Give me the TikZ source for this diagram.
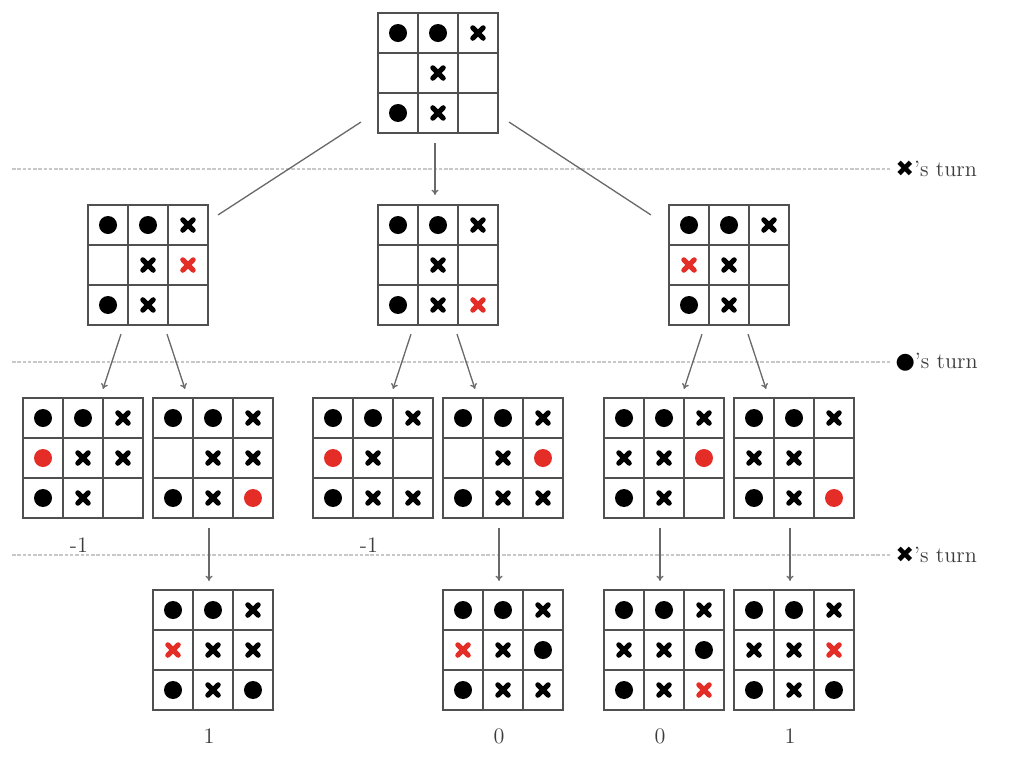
\documentclass[tikz,border=0pt]{standalone}
\usepackage{fontspec}
\newfontfamily\symfont{DejaVu Sans}
\usetikzlibrary{matrix,calc,arrows.meta}
\definecolor{mkred}{RGB}{228,45,38}
\definecolor{gridgray}{RGB}{80,80,80}
\definecolor{linkgray}{RGB}{105,105,105}
\definecolor{sepgray}{RGB}{200,200,200}
\definecolor{txtgray}{RGB}{60,60,60}
\begin{document}
\begin{tikzpicture}[x=0.02cm,y=-0.02cm,
  board/.style={matrix of nodes, nodes in empty cells, inner sep=0pt,
    column sep=-0.85pt, row sep=-0.85pt,
    nodes={draw=gridgray, line width=0.85pt, minimum size=0.8cm, inner sep=0pt, anchor=center}},
  o/.style={path picture={\fill[#1] (path picture bounding box.center) circle[radius=0.18cm];}},
  o/.default=black,
  x/.style={path picture={\draw[#1, line width=0.1cm, line cap=round, shift={(path picture bounding box.center)}]
      (-0.105cm,-0.105cm) -- (0.105cm,0.105cm) (-0.105cm,0.105cm) -- (0.105cm,-0.105cm);}},
  x/.default=black,
  link/.style={draw=linkgray, line width=0.75pt},
  arr/.style={link, -{To[length=3pt,width=4pt]}},
  sep/.style={draw=sepgray, line width=0.7pt, dash pattern=on 2pt off 1pt},
  turn/.style={anchor=west, inner sep=3pt, text=txtgray, font=\fontsize{12.6}{15}\selectfont},
  val/.style={text=txtgray, font=\fontsize{12.6}{15}\selectfont, inner sep=1pt}
]
\useasboundingbox (0,0) rectangle (1010,764);

% separators and turn labels
\coordinate (l1) at (12,169);
\coordinate (l2) at (12,362);
\coordinate (l3) at (12,555);
\node[turn] (t1) at (890,169) {{\color{black}\symfont ✖}'s turn};
\node[turn] (t2) at (890,362) {{\color{black}\symfont ●}'s turn};
\node[turn] (t3) at (890,555) {{\color{black}\symfont ✖}'s turn};
\draw[sep] (l1) -- (t1.west);
\draw[sep] (l2) -- (t2.west);
\draw[sep] (l3) -- (t3.west);

% level 0
\matrix (b0) [board] at (438,73) {
  |[o]| & |[o]| & |[x]| \\
        & |[x]| &       \\
  |[o]| & |[x]| &       \\
};

% level 1
\matrix (b1) [board] at (148,265) {
  |[o]| & |[o]| & |[x]| \\
        & |[x]| & |[x=mkred]| \\
  |[o]| & |[x]| &       \\
};
\matrix (b2) [board] at (438,265) {
  |[o]| & |[o]| & |[x]| \\
        & |[x]| &       \\
  |[o]| & |[x]| & |[x=mkred]| \\
};
\matrix (b3) [board] at (729,265) {
  |[o]| & |[o]| & |[x]| \\
  |[x=mkred]| & |[x]| & \\
  |[o]| & |[x]| &       \\
};

% level 2
\matrix (c1) [board] at (83,458) {
  |[o]| & |[o]| & |[x]| \\
  |[o=mkred]| & |[x]| & |[x]| \\
  |[o]| & |[x]| &       \\
};
\matrix (c2) [board] at (213,458) {
  |[o]| & |[o]| & |[x]| \\
        & |[x]| & |[x]| \\
  |[o]| & |[x]| & |[o=mkred]| \\
};
\matrix (c3) [board] at (373,458) {
  |[o]| & |[o]| & |[x]| \\
  |[o=mkred]| & |[x]| & \\
  |[o]| & |[x]| & |[x]| \\
};
\matrix (c4) [board] at (503,458) {
  |[o]| & |[o]| & |[x]| \\
        & |[x]| & |[o=mkred]| \\
  |[o]| & |[x]| & |[x]| \\
};
\matrix (c5) [board] at (664,458) {
  |[o]| & |[o]| & |[x]| \\
  |[x]| & |[x]| & |[o=mkred]| \\
  |[o]| & |[x]| &       \\
};
\matrix (c6) [board] at (794,458) {
  |[o]| & |[o]| & |[x]| \\
  |[x]| & |[x]| &       \\
  |[o]| & |[x]| & |[o=mkred]| \\
};

% level 3
\matrix (d1) [board] at (213,650) {
  |[o]| & |[o]| & |[x]| \\
  |[x=mkred]| & |[x]| & |[x]| \\
  |[o]| & |[x]| & |[o]| \\
};
\matrix (d2) [board] at (503,650) {
  |[o]| & |[o]| & |[x]| \\
  |[x=mkred]| & |[x]| & |[o]| \\
  |[o]| & |[x]| & |[x]| \\
};
\matrix (d3) [board] at (664,650) {
  |[o]| & |[o]| & |[x]| \\
  |[x]| & |[x]| & |[o]| \\
  |[o]| & |[x]| & |[x=mkred]| \\
};
\matrix (d4) [board] at (794,650) {
  |[o]| & |[o]| & |[x]| \\
  |[x]| & |[x]| & |[x=mkred]| \\
  |[o]| & |[x]| & |[o]| \\
};

% values
\node[val] (v1) at ($(c1.south)+(-4,26)$) {-1};
\node[val] (v2) at ($(c3.south)+(-4,26)$) {-1};
\node[val] (v3) at ($(d1.south)+(-4,25)$) {1};
\node[val] (v4) at ($(d2.south)+(-4,25)$) {0};
\node[val] (v5) at ($(d3.south)+(-4,25)$) {0};
\node[val] (v6) at ($(d4.south)+(-4,25)$) {1};

% connectors level 0 -> 1
\draw[link] ($(b0.south west)+(-16,-12)$) -- ($(b1.north east)+(9,11)$);
\draw[arr] ($(b0.south)+(-3,9)$) -- ($(b2.north)+(-3,-9)$);
\draw[link] ($(b0.south east)+(10,-12)$) -- ($(b3.north west)+(-17,11)$);

% level 1 -> 2
\draw[arr] ($(b1.south)+(-27,8)$) -- ($(c1.north)+(20,-8)$);
\draw[arr] ($(b1.south)+(19,8)$) -- ($(c2.north)+(-28,-8)$);
\draw[arr] ($(b2.south)+(-27,8)$) -- ($(c3.north)+(20,-8)$);
\draw[arr] ($(b2.south)+(19,8)$) -- ($(c4.north)+(-28,-8)$);
\draw[arr] ($(b3.south)+(-27,8)$) -- ($(c5.north)+(20,-8)$);
\draw[arr] ($(b3.south)+(19,8)$) -- ($(c6.north)+(-28,-8)$);

% level 2 -> 3
\draw[arr] ($(c2.south)+(-4,9)$) -- ($(d1.north)+(-4,-8)$);
\draw[arr] ($(c4.south)+(-4,9)$) -- ($(d2.north)+(-4,-8)$);
\draw[arr] ($(c5.south)+(-4,9)$) -- ($(d3.north)+(-4,-8)$);
\draw[arr] ($(c6.south)+(-4,9)$) -- ($(d4.north)+(-4,-8)$);
\end{tikzpicture}
\end{document}
